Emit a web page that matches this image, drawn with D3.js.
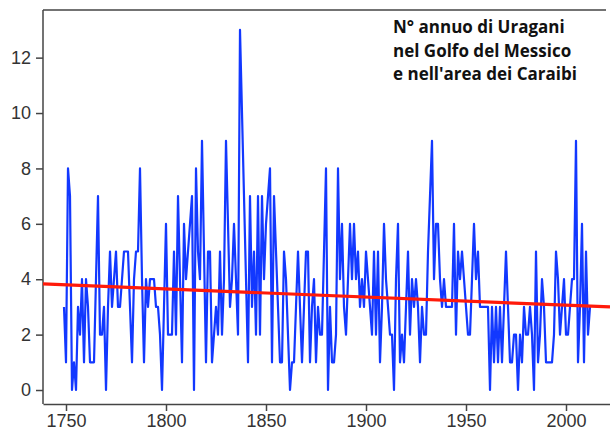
<!DOCTYPE html>
<html>
<head>
<meta charset="utf-8">
<script src="https://cdn.jsdelivr.net/npm/d3@7/dist/d3.min.js"></script>
<style>
  html, body { margin: 0; padding: 0; background: #fff; }
  svg { display: block; }
</style>
</head>
<body>
<svg id="chart" width="610" height="432"></svg>
<script>
// ---- data ----
const startYear = 1749;
const hurricanes = [
  3,1,8,7,0,1,0,3,2,4, 1,4,3,1,1,1,4,7,2,2, 3,0,3,5,3,4,5,3,3,4, 5,5,5,3,1,4,5,5,8,4,
  1,4,3,4,4,4,3,3,2,0, 3,6,2,2,2,5,2,7,4,1, 6,4,5,6,7,0,8,5,4,9, 5,1,5,5,1,2,3,2,5,2,
  4,9,6,3,4,6,4,2,13,10, 7,4,1,7,3,5,2,7,2,7, 4,6,7,8,1,7,5,3,1,1, 5,4,2,0,1,1,3,5,3,1,
  3,5,5,1,3,4,1,3,2,2, 5,8,0,3,1,1,2,8,4,6, 3,2,4,6,4,6,4,5,3,4, 3,5,4,3,2,5,2,5,1,3,
  6,4,3,2,2,0,4,6,1,2, 1,3,5,2,4,3,4,3,1,3, 2,2,5,7,9,4,6,6,4,3, 4,3,3,3,3,6,2,5,4,5,
  4,3,2,2,4,6,4,5,3,3, 3,3,3,0,3,1,3,1,3,1, 3,5,3,1,1,2,2,0,2,1, 3,2,2,3,2,0,5,1,2,4,
  3,1,1,1,1,2,5,4,2,3, 4,2,2,3,4,4,9,1,3,6, 1,5,2,3
];
const years = hurricanes.map((_, i) => startYear + i);
const trendYears = [1738.5, 2022];
const trendValues = [3.83, 3.0];
const xTicks = [1750, 1800, 1850, 1900, 1950, 2000];
const yTicks = [0, 2, 4, 6, 8, 10, 12];
const titleLines = ["N° annuo di Uragani", "nel Golfo del Messico", "e nell'area dei Caraibi"];

// ---- drawing ----
const svg = d3.select("#chart");
const x = d3.scaleLinear().domain([1738.5, 2022]).range([43, 610]);
const y = d3.scaleLinear().domain([-0.505, 13.72]).range([404, 10]);

const axisColor = "#444";
const labelColor = "#333";

// frame top line
svg.append("line")
  .attr("x1", 43).attr("x2", 606)
  .attr("y1", 10).attr("y2", 10)
  .attr("stroke", axisColor).attr("stroke-width", 1.5);

// axes
const xAxis = svg.append("g")
  .attr("transform", "translate(0,404)")
  .call(d3.axisBottom(x).tickValues(xTicks).tickFormat(d3.format("d")).tickSize(7).tickPadding(3).tickSizeOuter(0));
const yAxis = svg.append("g")
  .attr("transform", "translate(43,0)")
  .call(d3.axisLeft(y).tickValues(yTicks).tickSize(7).tickPadding(5).tickSizeOuter(0));

[xAxis, yAxis].forEach(g => {
  g.select(".domain").attr("stroke", axisColor).attr("stroke-width", 1.5);
  g.selectAll(".tick line").attr("stroke", axisColor).attr("stroke-width", 1.5);
  g.selectAll(".tick text")
    .attr("fill", labelColor)
    .style("font-family", "'Liberation Sans', Arial, sans-serif")
    .style("font-size", "18px");
});
yAxis.select(".domain").attr("d", "M0,404V10");

// series line
const line = d3.line().x((d, i) => x(years[i])).y(d => y(d));
svg.append("path")
  .datum(hurricanes)
  .attr("fill", "none")
  .attr("stroke", "#1238ff")
  .attr("stroke-width", 2.2)
  .attr("stroke-linejoin", "round")
  .attr("d", line);

// trend line
svg.append("path")
  .datum(trendValues)
  .attr("fill", "none")
  .attr("stroke", "#ff1a0a")
  .attr("stroke-width", 3.2)
  .attr("d", d3.line().x((d, i) => x(trendYears[i])).y(d => y(d)));

// title
const t = svg.append("g");
titleLines.forEach((s, i) => {
  t.append("text")
    .attr("x", 393)
    .attr("y", 33 + i * 23.5)
    .attr("fill", "#111")
    .style("font-family", "'Open Sans', sans-serif")
    .style("font-weight", "700")
    .style("font-size", "17px")
    .text(s);
});
</script>
</body>
</html>
